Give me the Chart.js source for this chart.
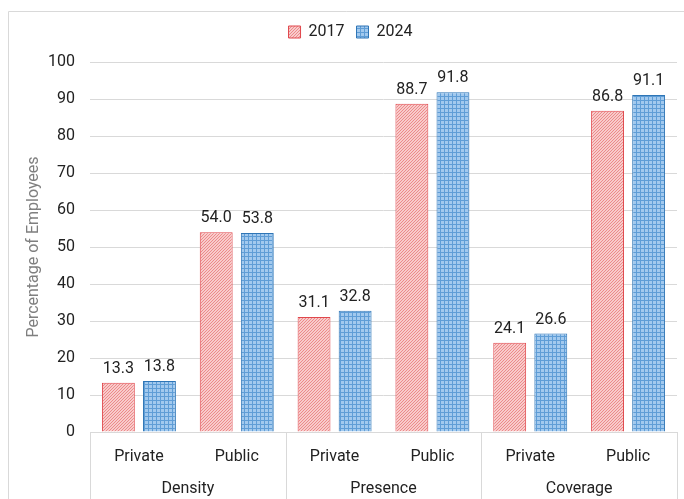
<!DOCTYPE html>
<html>
<head>
<meta charset="utf-8">
<script src="https://cdn.jsdelivr.net/npm/chart.js@4"></script>
<style>
  html, body { margin: 0; padding: 0; background: #fff; }
  #wrap { position: relative; width: 684px; height: 499px; }
</style>
</head>
<body>
<div id="wrap"><canvas id="c" width="684" height="499"></canvas></div>
<script>
// data
const groups = ["Density", "Presence", "Coverage"];
const sectors = ["Private", "Public"];
const labels = ["Private", "Public", "Private", "Public", "Private", "Public"];
const values2017 = [13.3, 54.0, 31.1, 88.7, 24.1, 86.8];
const values2024 = [13.8, 53.8, 32.8, 91.8, 26.6, 91.1];
const yTicks = [0, 10, 20, 30, 40, 50, 60, 70, 80, 90, 100];

const FONT = "Roboto";
const canvas = document.getElementById("c");
const ctx = canvas.getContext("2d");

// hatched fill for 2017
function redPattern() {
  const t = document.createElement("canvas");
  t.width = 3; t.height = 3;
  const g = t.getContext("2d");
  g.fillStyle = "#f8cbcb";
  g.fillRect(0, 0, 3, 3);
  g.fillStyle = "#ec8a8a";
  for (let i = 0; i < 3; i++) g.fillRect(i, 2 - i, 1, 1);
  return ctx.createPattern(t, "repeat");
}
// small grid fill for 2024
function bluePattern() {
  const t = document.createElement("canvas");
  t.width = 4; t.height = 4;
  const g = t.getContext("2d");
  g.fillStyle = "#a2c9ee";
  g.fillRect(0, 0, 4, 4);
  g.fillStyle = "#5f9dd6";
  g.fillRect(0, 0, 4, 1);
  g.fillRect(0, 0, 1, 4);
  return ctx.createPattern(t, "repeat");
}

// extra room under the legend
const legendGap = {
  id: "legendGap",
  beforeInit(chart) {
    const fit = chart.legend.fit;
    chart.legend.fit = function () {
      fit.bind(chart.legend)();
      this.height += 12;
    };
  }
};

const valueLabels = {
  id: "valueLabels",
  afterDatasetsDraw(chart) {
    const c = chart.ctx;
    c.save();
    c.font = "16px " + FONT;
    c.fillStyle = "#222";
    c.textAlign = "center";
    c.textBaseline = "bottom";
    chart.data.datasets.forEach((ds, i) => {
      chart.getDatasetMeta(i).data.forEach((bar, j) => {
        c.fillText(ds.data[j].toFixed(1), bar.x, bar.y - 6);
      });
    });
    c.restore();
  }
};

const groupAxis = {
  id: "groupAxis",
  afterDraw(chart) {
    const c = chart.ctx;
    const x = chart.scales.x;
    const bottom = chart.chartArea.bottom;
    const per = sectors.length;
    c.save();
    c.strokeStyle = "#d9d9d9";
    c.lineWidth = 1;
    for (let g = 0; g <= groups.length; g++) {
      let px;
      if (g === 0) px = chart.chartArea.left;
      else if (g === groups.length) px = chart.chartArea.right;
      else px = (x.getPixelForValue(g * per - 1) + x.getPixelForValue(g * per)) / 2;
      px = Math.round(px) + 0.5;
      c.beginPath();
      c.moveTo(px, bottom);
      c.lineTo(px, chart.height);
      c.stroke();
    }
    c.font = "16px " + FONT;
    c.fillStyle = "#222";
    c.textAlign = "center";
    c.textBaseline = "middle";
    groups.forEach((name, g) => {
      const cx = (x.getPixelForValue(g * per) + x.getPixelForValue(g * per + per - 1)) / 2;
      c.fillText(name, cx, 489);
    });
    // outer frame
    c.strokeStyle = "#d9d9d9";
    c.beginPath();
    c.moveTo(8.5, chart.height);
    c.lineTo(8.5, 11.5);
    c.lineTo(chart.width, 11.5);
    c.stroke();
    c.restore();
  }
};

new Chart(canvas, {
  type: "bar",
  data: {
    labels: labels,
    datasets: [
      {
        label: "2017",
        data: values2017,
        backgroundColor: redPattern(),
        borderColor: "#e0474c",
        borderWidth: 1,
        categoryPercentage: 0.84,
        barPercentage: 0.8
      },
      {
        label: "2024",
        data: values2024,
        backgroundColor: bluePattern(),
        borderColor: "#2e75b6",
        borderWidth: 1,
        categoryPercentage: 0.84,
        barPercentage: 0.8
      }
    ]
  },
  options: {
    responsive: false,
    animation: false,
    layout: { padding: { top: 12, right: 7, left: 24, bottom: 0 } },
    plugins: {
      tooltip: { enabled: false },
      legend: {
        position: "top",
        labels: {
          boxWidth: 12,
          boxHeight: 12,
          font: { family: FONT, size: 16 },
          color: "#222",
          padding: 12
        }
      }
    },
    scales: {
      x: {
        grid: { display: false },
        border: { display: true, color: "#d9d9d9" },
        ticks: {
          font: { family: FONT, size: 16 },
          color: "#222",
          padding: 7,
          maxRotation: 0
        },
        afterFit(scale) { scale.height = 67; }
      },
      y: {
        min: 0,
        max: 100,
        afterBuildTicks(scale) { scale.ticks = yTicks.map(v => ({ value: v })); },
        grid: { color: "#d9d9d9", drawTicks: false },
        border: { display: false },
        ticks: {
          font: { family: FONT, size: 16 },
          color: "#222",
          padding: 15
        },
        title: {
          display: true,
          text: "Percentage of Employees",
          font: { family: FONT, size: 16 },
          color: "#7f7f7f",
          padding: 0
        },
        afterFit(scale) { scale.width = 66; }
      }
    }
  },
  plugins: [legendGap, valueLabels, groupAxis]
});
</script>
</body>
</html>
